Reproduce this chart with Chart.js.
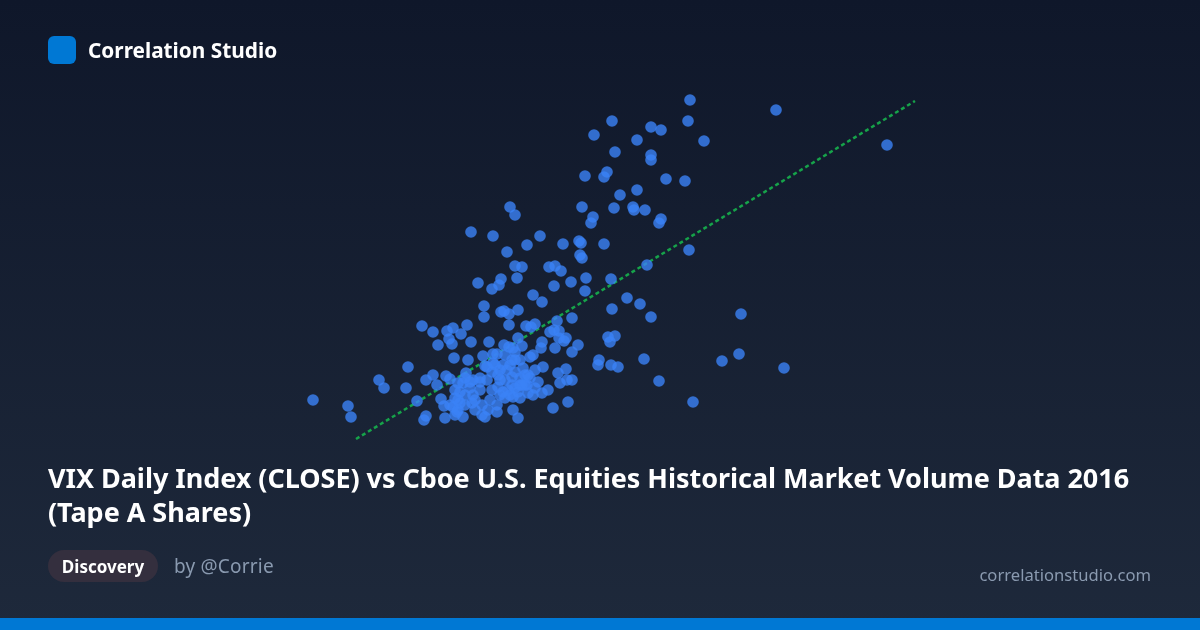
<!DOCTYPE html>
<html>
<head>
<meta charset="utf-8">
<title>Correlation Studio</title>
<script src="https://cdn.jsdelivr.net/npm/chart.js@4"></script>
<style>
  html, body { margin: 0; padding: 0; }
  body {
    position: relative; width: 1200px; height: 630px; overflow: hidden;
    background: linear-gradient(180deg, #0f172a 0%, #1e293b 100%);
    font-family: "Noto Sans", sans-serif; color: #fff;
  }
  #scatter { position: absolute; left: 0; top: 0; }
  .logo { position: absolute; left: 48px; top: 36px; width: 28px; height: 28px; border-radius: 6px; background: #0078d4; }
  .brand { position: absolute; left: 88px; top: 35px; font-size: 20.8px; line-height: 30px; font-weight: 700; }
  h1 { position: absolute; left: 48px; top: 461px; width: 1104px; margin: 0; font-size: 27px; line-height: 34px; font-weight: 700; letter-spacing: -0.04px; }
  .tag { position: absolute; left: 48px; top: 550px; height: 32px; width: 110px; border-radius: 16px; background: #342f3e; font-size: 17px; line-height: 33px; font-weight: 700; text-align: center; }
  .author { position: absolute; left: 174px; top: 552px; font-size: 19px; line-height: 28px; letter-spacing: 0.2px; color: #8a9ab0; }
  .site { position: absolute; right: 49px; top: 562px; font-size: 16.6px; line-height: 26px; color: #8a9ab0; }
  .bar { position: absolute; left: 0; top: 618px; width: 1200px; height: 12px; background: #0078d4; }
</style>
</head>
<body>
<canvas id="scatter" width="1200" height="630"></canvas>
<div class="logo"></div>
<div class="brand">Correlation Studio</div>
<h1>VIX Daily Index (CLOSE) vs Cboe U.S. Equities Historical Market Volume Data 2016 (Tape A Shares)</h1>
<div class="tag">Discovery</div>
<div class="author">by @Corrie</div>
<div class="site">correlationstudio.com</div>
<div class="bar"></div>
<script>
// values, axes are hidden in the original
const tapeA = [
  6.90,7.76,6.12,6.88,6.51,6.61,5.94,6.37,7.04,8.87,6.51,6.51,6.15,6.07,6.04,5.85,6.66,6.85,6.37,6.20,
  5.82,6.14,6.33,6.34,6.45,5.93,5.91,6.61,6.59,5.63,5.79,5.81,6.04,6.89,5.80,5.82,6.47,5.86,5.71,6.11,
  5.85,6.27,6.40,6.12,6.51,5.72,7.41,6.08,6.15,6.10,5.78,5.72,7.39,5.99,5.98,6.11,6.18,6.44,7.22,7.84,
  6.59,6.93,5.68,5.10,5.15,4.71,4.93,5.40,5.27,5.07,5.15,5.22,5.49,5.55,5.61,5.17,5.01,4.78,4.99,4.92,
  5.54,5.33,5.42,4.84,4.84,5.04,5.01,5.09,5.18,5.09,5.26,5.31,5.35,5.57,4.67,4.22,4.33,4.53,4.47,4.61,
  4.49,4.38,4.52,4.71,4.89,5.18,5.50,5.54,5.59,5.66,5.59,5.64,5.42,5.55,5.22,5.04,5.09,5.13,5.41,3.13,
  3.48,3.51,3.79,3.84,4.08,4.06,4.17,4.26,4.33,4.37,4.46,4.50,4.54,4.68,4.83,4.93,4.97,4.66,4.41,4.44,
  4.26,4.24,4.45,4.55,4.58,4.63,4.73,4.80,4.92,4.87,4.95,4.55,4.60,4.53,4.58,4.55,4.63,4.85,4.82,4.75,
  4.72,4.82,4.73,4.90,4.88,4.97,4.92,4.87,4.98,5.30,5.33,5.15,5.03,5.07,5.23,5.35,5.43,4.93,4.85,4.98,
  5.12,5.27,5.38,5.48,5.42,5.28,5.20,5.13,5.05,5.00,4.65,4.70,4.80,5.58,5.66,5.60,5.72,5.67,5.53,5.13,
  5.18,5.20,5.05,5.15,5.08,
  5.00,5.10,5.15,5.25,5.12,5.20,5.25,5.30,5.33,5.22,4.80,4.70,4.75,4.65,5.00,5.10,5.35,5.18,5.03,4.97,
  4.65,4.58,4.50,4.57,4.60,5.12,5.05,5.20,5.15,5.28
];
const vixClose = [
  28.00,27.50,26.95,26.95,26.65,26.50,26.25,26.00,25.95,25.75,25.25,25.00,25.40,24.40,24.15,24.20,24.05,23.95,23.50,23.25,
  22.65,22.60,22.65,22.50,22.50,22.15,21.85,22.05,21.85,20.80,20.95,20.85,20.80,20.50,20.25,20.10,19.75,19.10,18.90,19.05,
  18.45,18.10,17.80,17.55,17.15,17.10,17.30,16.15,16.20,15.90,15.75,15.40,15.30,15.00,14.75,14.75,14.65,15.05,14.95,14.60,
  13.95,12.90,12.90,22.65,22.25,21.40,21.20,21.20,20.75,20.40,19.70,19.65,19.65,19.70,19.45,19.10,19.05,18.85,18.75,18.55,
  18.70,18.25,17.90,17.70,17.15,17.45,17.40,17.30,17.50,16.75,16.70,16.65,16.80,16.95,16.75,16.70,16.40,16.60,16.45,16.30,
  16.05,15.75,15.80,15.90,15.90,16.10,16.40,16.50,16.45,16.10,16.10,15.95,15.90,15.60,15.70,15.75,15.65,15.60,15.60,13.00,
  12.70,12.15,14.00,13.60,14.65,13.60,12.95,14.00,14.25,13.75,14.20,14.05,15.10,15.00,15.20,15.30,15.30,14.35,13.05,12.70,
  12.20,12.00,12.10,13.50,13.85,13.85,14.00,14.10,14.40,14.65,14.75,13.10,12.85,12.65,12.50,12.25,12.15,12.15,12.25,12.50,
  12.85,12.75,13.25,13.00,12.50,12.40,13.50,14.00,13.65,15.15,15.25,15.00,14.75,14.50,14.60,14.50,14.65,14.85,14.70,14.25,
  14.15,13.75,13.90,13.50,13.35,13.35,13.10,13.15,13.10,13.25,13.25,13.90,13.90,14.35,14.55,13.85,14.00,14.00,12.60,12.50,
  12.10,14.10,14.00,13.60,13.50,
  14.50,14.75,14.40,13.75,13.75,13.75,14.25,14.10,13.25,13.75,13.50,13.60,13.00,12.75,14.00,13.25,13.60,13.40,13.40,12.75,
  14.10,13.00,12.75,12.40,13.40,15.00,15.25,15.00,15.40,14.25
];
const trendX = [3.56, 9.15];
const trendY = [11.05, 27.95];

new Chart(document.getElementById('scatter'), {
  type: 'scatter',
  data: {
    datasets: [{
      data: tapeA.map((v, i) => ({ x: v, y: vixClose[i] })),
      backgroundColor: 'rgba(59, 130, 246, 0.8)',
      pointRadius: 5.8,
      pointBorderWidth: 0
    }, {
      type: 'line',
      data: trendX.map((v, i) => ({ x: v, y: trendY[i] })),
      borderColor: '#16a34a',
      borderWidth: 2.5,
      borderDash: [4, 3],
      pointRadius: 0,
      fill: false
    }]
  },
  options: {
    responsive: false,
    animation: false,
    devicePixelRatio: 1,
    layout: { padding: 0, autoPadding: false },
    plugins: { legend: { display: false }, tooltip: { enabled: false } },
    scales: {
      x: { type: 'linear', display: false, min: 0, max: 12 },
      y: { type: 'linear', display: false, min: 1.5, max: 33 }
    }
  }
});
</script>
</body>
</html>
